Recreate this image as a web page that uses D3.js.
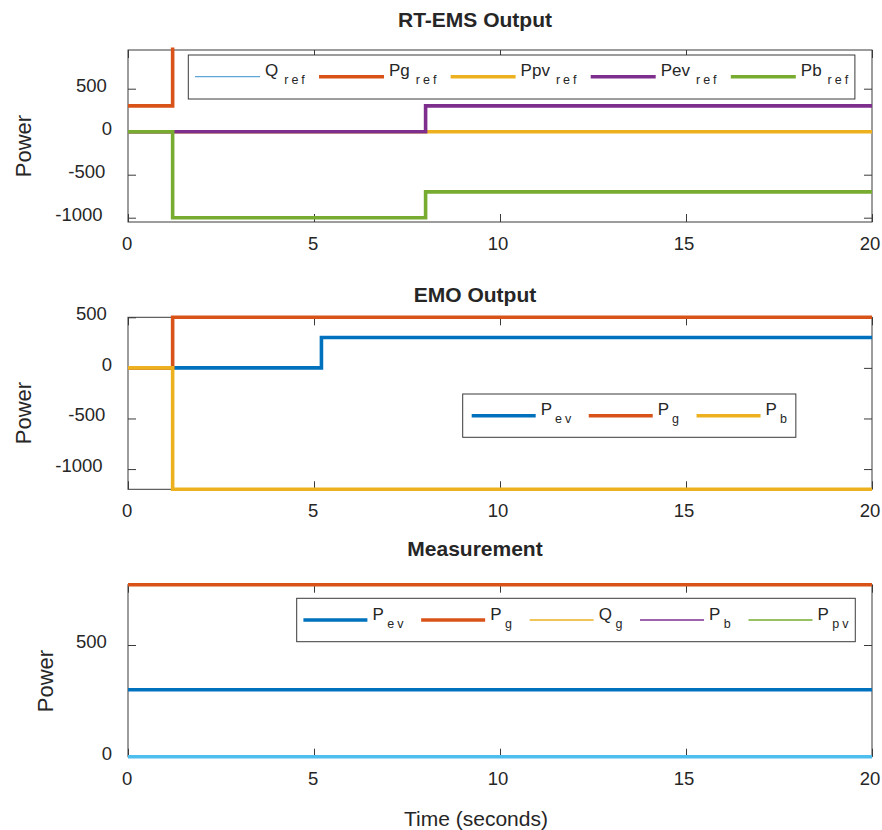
<!DOCTYPE html>
<html>
<head>
<meta charset="utf-8">
<script src="https://cdn.jsdelivr.net/npm/d3@7"></script>
<style>
  body { margin: 0; background: #fff; }
  svg { display: block; }
  text { font-family: "Liberation Sans", Arial, Helvetica, sans-serif; fill: #262626; }
</style>
</head>
<body>
<svg id="chart" width="882" height="830"></svg>
<script>
// MATLAB-style default line colours
const COLORS = {
  blue: "#0072BD", orange: "#D95319", yellow: "#EDB120",
  purple: "#7E2F8E", green: "#77AC30", cyan: "#4DBEEE", thinBlue: "#5ea6d8"
};

// ---- RT-EMS output (step changes at the listed times) ----
const emsTime   = [0, 1.2, 8, 20];
const emsQref   = [0, 0, 0, 0];
const emsPgRef  = [300, 1300, 1300, 1300];
const emsPpvRef = [0, 0, 0, 0];
const emsPevRef = [0, 0, 300, 300];
const emsPbRef  = [0, -1000, -700, -700];
const emsTicks  = [-1000, -500, 0, 500];

// ---- EMO output ----
const emoTime  = [0, 1.2, 5.2, 20];
const emoPev   = [0, 0, 300, 300];
const emoPg    = [0, 500, 500, 500];
const emoPb    = [0, -1200, -1200, -1200];
const emoTicks = [-1000, -500, 0, 500];

// ---- Measurement ----
const measTime  = [0, 20];
const measPev   = [300, 300];
const measPg    = [770, 770];
const measQg    = [0, 0];
const measPb    = [0, 0];
const measPpv   = [0, 0];
const measAux   = [0, 0];
const measTicks = [0, 500];

const timeTicks = [0, 5, 10, 15, 20];

const svg = d3.select("#chart");
const LEFT = 128, RIGHT = 872, PH = 172;
const x = d3.scaleLinear().domain([0, 20]).range([LEFT, RIGHT]);
const plainFormat = d => String(d);

const panels = [
  {
    id: "ems", top: 50, yDomain: [-1050, 950], yTicks: emsTicks, time: emsTime,
    title: "RT-EMS Output", titleY: 27, ylabelX: 31, ylabelY: 146,
    series: [
      { main: "Q",   sub: "ref", values: emsQref,   color: COLORS.thinBlue, width: 1.3 },
      { main: "Pg",  sub: "ref", values: emsPgRef,  color: COLORS.orange, width: 3.6 },
      { main: "Ppv", sub: "ref", values: emsPpvRef, color: COLORS.yellow, width: 3.6 },
      { main: "Pev", sub: "ref", values: emsPevRef, color: COLORS.purple, width: 3.6 },
      { main: "Pb",  sub: "ref", values: emsPbRef,  color: COLORS.green,  width: 3.6 }
    ],
    legend: { x: 188.3, y: 55, h: 44, lineLen: 65, textGap: 5, subGap: 6, trail: 14.2, pad: 6.7 }
  },
  {
    id: "emo", top: 317.3, yDomain: [-1200, 500], yTicks: emoTicks, time: emoTime,
    title: "EMO Output", titleY: 302, ylabelX: 31, ylabelY: 413,
    series: [
      { main: "P", sub: "ev", values: emoPev, color: COLORS.blue,   width: 3.6 },
      { main: "P", sub: "g",  values: emoPg,  color: COLORS.orange, width: 3.6 },
      { main: "P", sub: "b",  values: emoPb,  color: COLORS.yellow, width: 3.6 }
    ],
    legend: { x: 462.7, y: 394, h: 43.3, lineLen: 64, textGap: 5, subGap: 3, trail: 17.5, pad: 9 }
  },
  {
    id: "meas", top: 584.7, yDomain: [0, 770], yTicks: measTicks, time: measTime,
    title: "Measurement", titleY: 556, ylabelX: 53, ylabelY: 681,
    series: [
      { main: "P", sub: "ev", values: measPev, color: COLORS.blue,   width: 3.6 },
      { main: "P", sub: "g",  values: measPg,  color: COLORS.orange, width: 3.6 },
      { main: "Q", sub: "g",  values: measQg,  color: COLORS.yellow, width: 1.3 },
      { main: "P", sub: "b",  values: measPb,  color: COLORS.purple, width: 1.3 },
      { main: "P", sub: "pv", values: measPpv, color: COLORS.green,  width: 1.3 },
      { values: measAux, color: COLORS.cyan, width: 3.6, noLegend: true }
    ],
    legend: { x: 296.7, y: 598.3, h: 43.4, lineLen: 64, textGap: 5, subGap: 3.5, trail: 17.7, pad: 6.7 }
  }
];

panels.forEach(p => {
  const bottom = p.top + PH;
  const y = d3.scaleLinear().domain(p.yDomain).range([bottom, p.top]);
  const g = svg.append("g");

  // axes box
  g.append("rect")
    .attr("x", LEFT).attr("y", p.top).attr("width", RIGHT - LEFT).attr("height", PH)
    .attr("fill", "none").attr("stroke", "#3a3a3a").attr("stroke-width", 1);

  // inward ticks on all four sides
  const styleAxis = sel => {
    sel.select(".domain").remove();
    sel.selectAll(".tick line").attr("stroke", "#3a3a3a").attr("stroke-width", 1);
  };
  const axL = g.append("g").attr("transform", `translate(${LEFT},0)`)
    .call(d3.axisLeft(y).tickValues(p.yTicks).tickFormat(plainFormat).tickSizeInner(-8).tickSizeOuter(0))
    .call(styleAxis);
  g.append("g").attr("transform", `translate(${RIGHT},0)`)
    .call(d3.axisRight(y).tickValues(p.yTicks).tickSizeInner(-8).tickSizeOuter(0).tickFormat(""))
    .call(styleAxis);
  const axB = g.append("g").attr("transform", `translate(0,${bottom})`)
    .call(d3.axisBottom(x).tickValues(timeTicks).tickFormat(plainFormat).tickSizeInner(-8).tickSizeOuter(0))
    .call(styleAxis);
  g.append("g").attr("transform", `translate(0,${p.top})`)
    .call(d3.axisTop(x).tickValues(timeTicks).tickSizeInner(-8).tickSizeOuter(0).tickFormat(""))
    .call(styleAxis);

  svg.selectAll(".tick text").attr("font-family", null);
  axL.selectAll(".tick text")
    .attr("font-size", 18.5).attr("fill", "#262626").attr("text-anchor", "start")
    .attr("dy", null).attr("y", 2.5)
    .attr("x", function () { return (114.5 - LEFT) - 1.25 * this.getComputedTextLength(); });
  axB.selectAll(".tick text")
    .attr("font-size", 18.5).attr("fill", "#262626").attr("text-anchor", "start")
    .attr("dy", null).attr("y", 28)
    .attr("x", function () { return -0.625 * this.getComputedTextLength(); });

  // clip the data lines to the plotting area (small allowance for stroke width)
  g.append("clipPath").attr("id", "clip-" + p.id)
    .append("rect").attr("x", LEFT - 3).attr("y", p.top - 2.5)
    .attr("width", RIGHT - LEFT + 6).attr("height", PH + 5);

  const stepLine = d3.line().x(d => x(d[0])).y(d => y(d[1])).curve(d3.curveStepAfter);
  const lines = g.append("g").attr("clip-path", `url(#clip-${p.id})`);
  p.series.forEach(s => {
    const pts = s.values.map((v, i) => [p.time[i], v]);
    lines.append("path")
      .attr("d", stepLine(pts))
      .attr("fill", "none").attr("stroke", s.color).attr("stroke-width", s.width)
      .attr("stroke-linejoin", "miter");
  });

  // title and y label
  svg.append("text").attr("x", 475).attr("y", p.titleY).attr("text-anchor", "middle")
    .attr("font-size", 21).attr("font-weight", "bold").attr("fill", "#000").text(p.title);
  svg.append("text").attr("transform", `translate(${p.ylabelX},${p.ylabelY}) rotate(-90)`)
    .attr("text-anchor", "middle").attr("font-size", 22).text("Power");

  // legend
  const L = p.legend;
  const lg = svg.append("g");
  const box = lg.append("rect").attr("y", L.y).attr("height", L.h)
    .attr("fill", "#fff").attr("stroke", "#3a3a3a").attr("stroke-width", 1);
  const lineY = L.y + 21.7;
  let cx = L.x + L.pad;
  let lastEnd = cx;
  p.series.filter(s => !s.noLegend).forEach(s => {
    lg.append("line").attr("x1", cx).attr("x2", cx + L.lineLen)
      .attr("y1", lineY).attr("y2", lineY)
      .attr("stroke", s.color).attr("stroke-width", s.width > 2 ? 3.6 : 1.3);
    const tx = cx + L.lineLen + L.textGap;
    const mt = lg.append("text").attr("x", tx).attr("y", lineY - 0.5)
      .attr("font-size", 17).text(s.main);
    const sx = tx + mt.node().getComputedTextLength() + L.subGap;
    const st = lg.append("text").attr("x", sx).attr("y", lineY + 7.5)
      .attr("font-size", 12.5).attr("letter-spacing", 3).text(s.sub);
    lastEnd = sx + st.node().getBBox().width - 3;
    cx = lastEnd + L.trail;
  });
  box.attr("x", L.x).attr("width", lastEnd + L.pad - L.x);
});

// shared x label
svg.append("text").attr("x", 476).attr("y", 826).attr("text-anchor", "middle")
  .attr("font-size", 21).text("Time (seconds)");
</script>
</body>
</html>
